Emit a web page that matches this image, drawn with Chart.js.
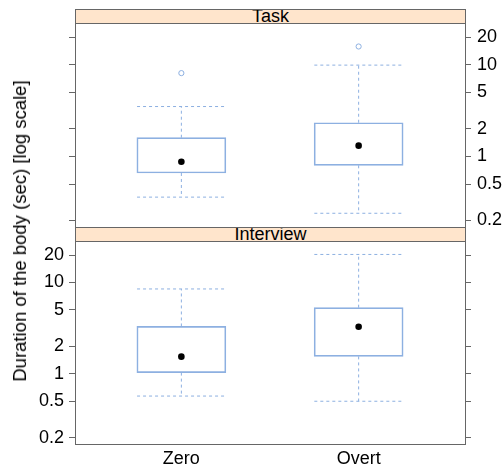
<!DOCTYPE html>
<html>
<head>
<meta charset="utf-8">
<script src="https://cdn.jsdelivr.net/npm/chart.js@4.4.1/dist/chart.umd.min.js"></script>
<style>
  html, body { margin: 0; padding: 0; background: #fff; }
  #wrap { position: relative; width: 504px; height: 468px; overflow: hidden; font-family: "Liberation Sans", Arial, sans-serif; }
  canvas { position: absolute; left: 0; top: 0; }
  .strip { position: absolute; box-sizing: border-box; background: #FFE5CC; border: 1px solid #666; overflow: hidden;
           text-align: center; font-size: 18px; color: #000; z-index: 5; }
  #ytitle { position: absolute; left: 20px; top: 231px; transform: translate(-50%, -50%) rotate(-90deg);
            white-space: nowrap; font-size: 18.5px; color: #000; z-index: 5; }
</style>
</head>
<body>
<div id="wrap">
  <canvas id="cTask" width="504" height="468"></canvas>
  <canvas id="cInterview" width="504" height="468"></canvas>
  <div class="strip" id="sTask"></div>
  <div class="strip" id="sInterview"></div>
  <div id="ytitle"></div>
</div>
<script>
// ---------------- data ----------------
const categories = ['Zero', 'Overt'];
const panelNames = ['Task', 'Interview'];
const yTickValues = [0.2, 0.5, 1, 2, 5, 10, 20];
const yTitle = 'Duration of the body (sec) [log scale]';

// Task panel five-number summaries
const taskLow      = [0.36, 0.24];
const taskQ1       = [0.66, 0.80];
const taskMedian   = [0.875, 1.31];
const taskQ3       = [1.60, 2.33];
const taskHigh     = [3.5, 9.9];
const taskOutliers = [[8.1], [15.8]];

// Interview panel five-number summaries
const interviewLow      = [0.57, 0.50];
const interviewQ1       = [1.03, 1.55];
const interviewMedian   = [1.54, 3.27];
const interviewQ3       = [3.30, 5.30];
const interviewHigh     = [8.5, 20.3];
const interviewOutliers = [[], []];

// ---------------- style ----------------
const BLUE = 'rgb(141,176,225)';
const FRAME = '#666666';
const FONT = '"Liberation Sans", Arial, sans-serif';
const Y_MIN = 0.17, Y_MAX = 28.5;
const HALF_W = 0.25;     // box half width in x units
const W = 504, H = 468;
const LEFT = 75, RIGHT = 465;

function panelChart(canvasId, s, top, bottom, labelsRight, showXLabels) {
  const datasets = [];
  datasets.push({
    type: 'bar',
    data: categories.map((c, i) => ({ x: i + 1, y: [s.q1[i], s.q3[i]] })),
    backgroundColor: 'rgba(255,255,255,0)',
    borderColor: BLUE, borderWidth: 1, borderSkipped: false,
    barThickness: 89, order: 3
  });
  categories.forEach((c, i) => {
    const x = i + 1;
    const segs = [
      [[x, s.q3[i]], [x, s.hi[i]]],
      [[x - HALF_W, s.hi[i]], [x + HALF_W, s.hi[i]]],
      [[x, s.q1[i]], [x, s.lo[i]]],
      [[x - HALF_W, s.lo[i]], [x + HALF_W, s.lo[i]]]
    ];
    segs.forEach(seg => datasets.push({
      type: 'line',
      data: seg.map(p => ({ x: p[0], y: p[1] })),
      borderColor: BLUE, borderWidth: 1, borderDash: [3, 3],
      pointRadius: 0, fill: false, tension: 0, order: 2
    }));
  });
  datasets.push({
    type: 'scatter',
    data: categories.map((c, i) => ({ x: i + 1, y: s.med[i] })),
    pointRadius: 3.3, backgroundColor: '#000', borderColor: '#000', borderWidth: 0, order: 1
  });
  datasets.push({
    type: 'scatter',
    data: s.out.flatMap((arr, i) => arr.map(v => ({ x: i + 1, y: v }))),
    pointRadius: 2.6, backgroundColor: '#fff', borderColor: BLUE, borderWidth: 1, order: 1
  });

  const setTicks = sc => { sc.ticks = yTickValues.map(v => ({ value: v })); };
  const yAxis = (pos, showLabels, width, pad) => ({
    type: 'logarithmic', position: pos, min: Y_MIN, max: Y_MAX,
    afterBuildTicks: setTicks,
    afterFit: sc => { sc.width = width; },
    grid: { display: true, drawOnChartArea: false, drawTicks: true, tickLength: 6, color: FRAME },
    border: { display: true, color: FRAME, width: 1 },
    ticks: { display: showLabels, autoSkip: false, padding: pad, color: '#000',
             font: { family: FONT, size: 18 }, callback: v => String(v) }
  });
  const xAxis = (pos, showLabels, height) => ({
    type: 'linear', position: pos, min: 0.4, max: 2.6, offset: false,
    afterBuildTicks: sc => { sc.ticks = categories.map((c, i) => ({ value: i + 1 })); },
    afterFit: sc => { sc.height = height; },
    grid: { display: false, drawTicks: false, offset: false },
    border: { display: true, color: FRAME, width: 1 },
    ticks: { display: showLabels, autoSkip: false, padding: 4, color: '#000', maxRotation: 0,
             font: { family: FONT, size: 18 }, callback: v => categories[Math.round(v) - 1] }
  });

  return new Chart(document.getElementById(canvasId), {
    type: 'bar',
    data: { datasets },
    options: {
      responsive: false, animation: false, devicePixelRatio: 1,
      layout: { padding: 0 },
      plugins: { legend: { display: false }, tooltip: { enabled: false }, title: { display: false } },
      scales: {
        x: xAxis('bottom', showXLabels, H - bottom),
        xTop: xAxis('top', false, top),
        y: yAxis('left', !labelsRight, LEFT, 5),
        yRight: yAxis('right', labelsRight, W - RIGHT, 6)
      }
    }
  });
}

panelChart('cTask', { lo: taskLow, q1: taskQ1, med: taskMedian, q3: taskQ3, hi: taskHigh, out: taskOutliers },
           23, 227, true, false);
panelChart('cInterview', { lo: interviewLow, q1: interviewQ1, med: interviewMedian, q3: interviewQ3, hi: interviewHigh, out: interviewOutliers },
           241, 444, false, true);

// strips
function placeStrip(id, name, top) {
  const d = document.getElementById(id);
  d.textContent = name;
  d.style.left = LEFT + 'px';
  d.style.width = (RIGHT - LEFT + 1) + 'px';
  d.style.top = top + 'px';
  d.style.height = '15px';
  d.style.lineHeight = '12.5px';
}
placeStrip('sTask', panelNames[0], 9);
placeStrip('sInterview', panelNames[1], 227);
document.getElementById('ytitle').textContent = yTitle;
</script>
</body>
</html>
